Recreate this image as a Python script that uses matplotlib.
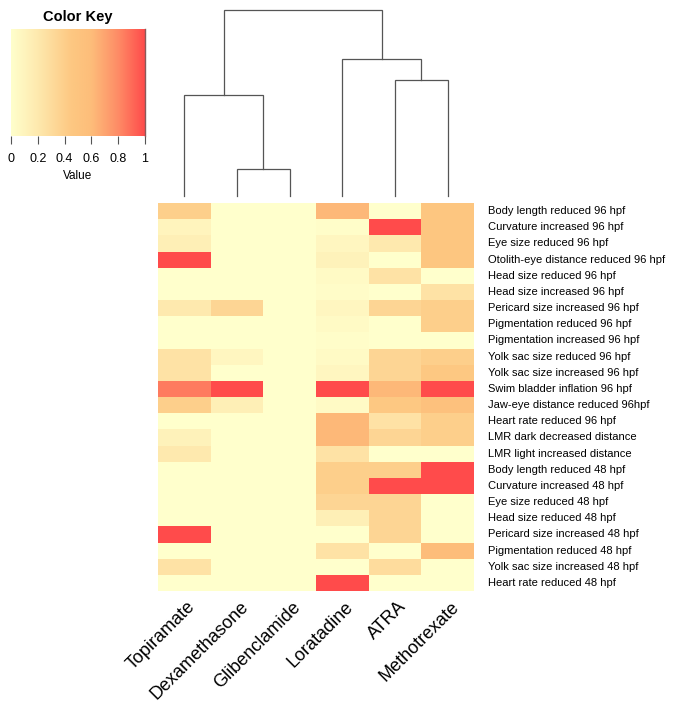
import numpy as np
import matplotlib
matplotlib.use("Agg")
import matplotlib.pyplot as plt
from matplotlib.colors import LinearSegmentedColormap

plt.rcParams['font.family'] = ['Liberation Sans', 'DejaVu Sans']

compounds = ["Topiramate", "Dexamethasone", "Glibenclamide", "Loratadine", "ATRA", "Methotrexate"]
endpoints = [
    "Body length reduced 96 hpf",
    "Curvature increased 96 hpf",
    "Eye size reduced 96 hpf",
    "Otolith-eye distance reduced 96 hpf",
    "Head size reduced 96 hpf",
    "Head size increased 96 hpf",
    "Pericard size increased 96 hpf",
    "Pigmentation reduced 96 hpf",
    "Pigmentation increased 96 hpf",
    "Yolk sac size reduced 96 hpf",
    "Yolk sac size increased 96 hpf",
    "Swim bladder inflation 96 hpf",
    "Jaw-eye distance reduced 96hpf",
    "Heart rate reduced 96 hpf",
    "LMR dark decreased distance",
    "LMR light increased distance",
    "Body length reduced 48 hpf",
    "Curvature increased 48 hpf",
    "Eye size reduced 48 hpf",
    "Head size reduced 48 hpf",
    "Pericard size increased 48 hpf",
    "Pigmentation reduced 48 hpf",
    "Yolk sac size increased 48 hpf",
    "Heart rate reduced 48 hpf",
]

topiramate    = [0.40, 0.10, 0.15, 1.00, 0.00, 0.00, 0.20, 0.00, 0.00, 0.25, 0.25, 0.85,
                 0.40, 0.00, 0.12, 0.20, 0.00, 0.00, 0.00, 0.00, 1.00, 0.00, 0.25, 0.00]
dexamethasone = [0.00, 0.00, 0.00, 0.00, 0.00, 0.00, 0.35, 0.00, 0.00, 0.08, 0.00, 1.00,
                 0.15, 0.00, 0.00, 0.00, 0.00, 0.00, 0.00, 0.00, 0.00, 0.00, 0.00, 0.00]
glibenclamide = [0.00] * 24
loratadine    = [0.62, 0.02, 0.08, 0.12, 0.05, 0.03, 0.08, 0.05, 0.02, 0.05, 0.08, 1.00,
                 0.05, 0.62, 0.62, 0.25, 0.40, 0.40, 0.35, 0.15, 0.00, 0.25, 0.00, 1.00]
atra          = [0.00, 1.00, 0.20, 0.00, 0.25, 0.00, 0.35, 0.00, 0.00, 0.35, 0.35, 0.62,
                 0.45, 0.25, 0.35, 0.00, 0.40, 1.00, 0.35, 0.35, 0.35, 0.00, 0.30, 0.00]
methotrexate  = [0.48, 0.48, 0.48, 0.48, 0.00, 0.25, 0.40, 0.40, 0.00, 0.40, 0.45, 1.00,
                 0.55, 0.40, 0.40, 0.00, 1.00, 1.00, 0.00, 0.00, 0.00, 0.60, 0.00, 0.00]

# dendrogram (leaves 0..5 in display order; new clusters numbered 6, 7, ...)
merge_left   = [1, 4, 0, 3, 8]
merge_right  = [2, 5, 6, 7, 9]
merge_height = [0.27, 1.16, 1.01, 1.37, 1.86]

key_ticks = [0, 0.2, 0.4, 0.6, 0.8, 1]

data = np.array([topiramate, dexamethasone, glibenclamide, loratadine, atra, methotrexate]).T

cmap = LinearSegmentedColormap.from_list(
    "key", [(0.0, "#FFFFCC"), (0.2, "#FEE9AE"), (0.45, "#FDC882"),
            (0.6, "#FDBD7A"), (0.8, "#FE8C66"), (1.0, "#FF4B4B")])

W, H = 674, 714
fig = plt.figure(figsize=(W / 100, H / 100), dpi=100)

def ax_px(x0, y0, x1, y1):
    return fig.add_axes([x0 / W, 1 - y1 / H, (x1 - x0) / W, (y1 - y0) / H])

# heatmap
hx0, hy0, hx1, hy1 = 158, 203, 474, 591
ax = ax_px(hx0, hy0, hx1, hy1)
nrow, ncol = data.shape
ax.pcolormesh(np.arange(ncol + 1), np.arange(nrow + 1), data, cmap=cmap, vmin=0, vmax=1)
ax.set_xlim(0, ncol)
ax.set_ylim(nrow, 0)
for s in ax.spines.values():
    s.set_visible(False)
ax.set_xticks([])
ax.set_yticks([])
for i, lab in enumerate(endpoints):
    ax.text(ncol + 0.27, i + 0.5, lab, ha='left', va='center', fontsize=8, color='black')
for j, lab in enumerate(compounds):
    ax.text(j + 0.55, nrow + 0.45, lab, ha='right', va='top', rotation=45,
            rotation_mode='anchor', fontsize=13, color='black')

# dendrogram
dax = ax_px(hx0, 10, hx1, 196)
pos = {i: i + 0.5 for i in range(ncol)}
hgt = {i: 0.0 for i in range(ncol)}
for k, (a, b, h) in enumerate(zip(merge_left, merge_right, merge_height)):
    xa, xb = pos[a], pos[b]
    dax.plot([xa, xa, xb, xb], [hgt[a], h, h, hgt[b]], color='#555555', lw=0.9,
             solid_joinstyle='miter')
    pos[ncol + k] = (xa + xb) / 2
    hgt[ncol + k] = h
dax.set_xlim(0, ncol)
dax.set_ylim(0, max(merge_height))
dax.axis('off')
for ln in dax.lines:
    ln.set_clip_on(False)

# color key
kax = ax_px(11, 29, 145, 136)
grad = np.linspace(0, 1, 256).reshape(1, -1)
kax.imshow(grad, cmap=cmap, aspect='auto', extent=[0, 1, 0, 1], vmin=0, vmax=1)
kax.set_xlim(0, 1)
kax.set_ylim(0, 1)
kax.set_yticks([])
kax.set_xticks(key_ticks)
kax.set_xticklabels([f"{t:g}" for t in key_ticks], fontsize=9)
kax.tick_params(axis='x', length=6, width=0.8, color='#555555', pad=6)
for name, s in kax.spines.items():
    s.set_visible(name == 'right')
kax.spines['right'].set_color('#8a5a5a')
kax.spines['right'].set_linewidth(1.0)
kax.set_xlabel("Value", fontsize=8.5, labelpad=4)
fig.text(78 / W, 1 - 17 / H, "Color Key", ha='center', va='center', fontsize=10.5, fontweight='bold')

fig.savefig("out.png", dpi=100, facecolor='white')
